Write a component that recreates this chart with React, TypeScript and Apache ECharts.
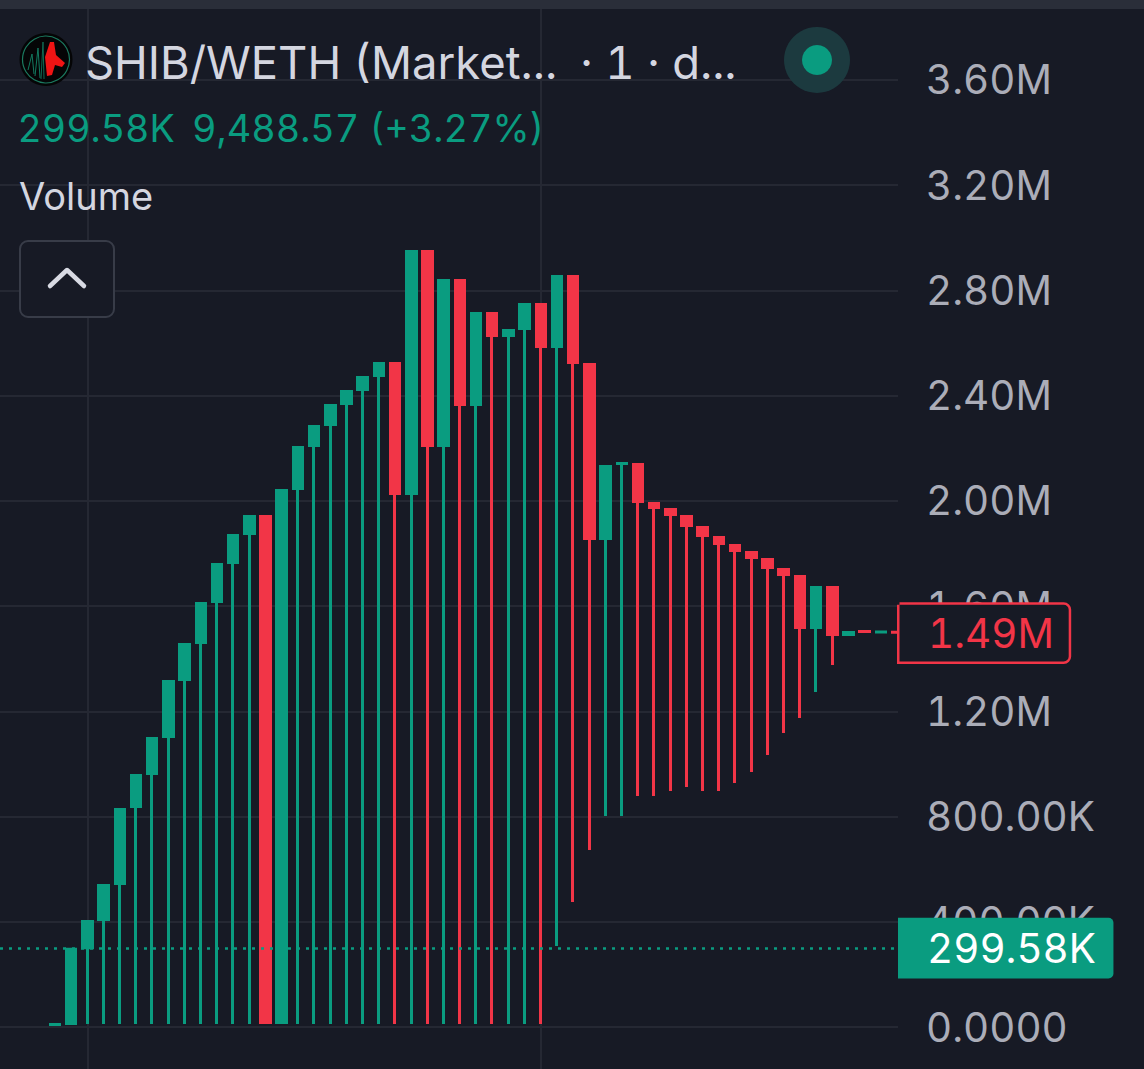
import React, { useEffect, useRef } from "react";
import * as echarts from "echarts";

const opens = [3800, 7600, 295300, 402900, 539700, 832300, 957700, 1098300, 1315000, 1455600, 1611400, 1759600, 1869800, 1945900, 11400, 2040900, 2204300, 2284100, 2363900, 2417100, 2470300, 2527300, 2021900, 2953000, 2204300, 2842800, 2360000, 2717400, 2622300, 2648900, 2751600, 2580500, 2857900, 2523500, 1850800, 2135900, 2143500, 1995300, 1972500, 1945900, 1904100, 1866000, 1835600, 1809000, 1782400, 1744400, 1717800, 1512600, 1676000, 1486000, 1508800, 1497400, 1505000];
const closes = [15200, 301400, 406700, 543500, 832300, 961500, 1102000, 1318800, 1459400, 1615200, 1763400, 1873600, 1945900, 11400, 2044700, 2208100, 2287900, 2367700, 2420900, 2474100, 2527300, 2021900, 2953000, 2204300, 2842800, 2360000, 2717400, 2622300, 2652700, 2751600, 2580500, 2857900, 2519700, 1850800, 2135900, 2147300, 1991500, 1968700, 1942100, 1900300, 1862200, 1831800, 1805200, 1778600, 1740600, 1714000, 1512600, 1676000, 1486000, 1505000, 1497400, 1505000, 1495500];
const lows = [3800, 7600, 11400, 11400, 11400, 11400, 11400, 11400, 11400, 11400, 11400, 11400, 11400, 11400, 11400, 11400, 11400, 11400, 11400, 11400, 11400, 11400, 11400, 11400, 11400, 11400, 11400, 11400, 11400, 11400, 11400, 307800, 475100, 672700, 801900, 801900, 877900, 877900, 896900, 912100, 896900, 896900, 927300, 969100, 1033700, 1117300, 1174300, 1273200, 1375800, 1486000, 1497400, 1497400, 1495500];
const yTickLabels = ["0.0000", "400.00K", "800.00K", "1.20M", "1.60M", "2.00M", "2.40M", "2.80M", "3.20M", "3.60M"];
const crosshairCandles = [2, 30];
const lastVolume = 299580;
const lastVolumeLabel = "299.58K";
const lastPrice = 1497000;
const lastPriceLabel = "1.49M";
const titleText = "SHIB/WETH (Market...";
const titleSuffix = "· 1 · d...";
const statusValue = "299.58K";
const statusChange = "9,488.57 (+3.27%)";
const indicatorText = "Volume";

const BG = "#171a25";
const GRID = "#252833";
const GREEN = "#0a9c80";
const RED = "#f23547";
const FONT = "Inter, 'Noto Sans', sans-serif";
const AXIS_FONT = 40.4;
const BODY_INSET = 5700;
const SHIFT = 26;

export default function App() {
  const ref = useRef<HTMLDivElement>(null);
  useEffect(() => {
    document.body.style.margin = "0";
    document.body.style.background = BG;
    const chart = echarts.init(ref.current!, null, { renderer: "svg" });
    const candles = opens.map((o, i) => {
      const c = closes[i];
      const inset = Math.min(BODY_INSET, Math.abs(o - c) / 2 - 1);
      const up = c > o;
      return [i, up ? o + inset : o - inset, up ? c - inset : c + inset, lows[i], Math.max(o, c)];
    });
    const txt = (x: number, y: number, text: string, size: number, fill: string) => ({
      type: "text", x, y, z: 100,
      style: { text, fontSize: size, fill, fontFamily: FONT, verticalAlign: "middle", align: "left" },
    });
    chart.setOption({
      animation: false,
      backgroundColor: BG,
      grid: { left: 0, right: 246, top: 0.5, height: 1157.75, containLabel: false },
      xAxis: {
        type: "value", min: -3.40, max: 52.06,
        axisLine: { show: false }, axisTick: { show: false }, axisLabel: { show: false }, splitLine: { show: false },
      },
      yAxis: {
        type: "value", position: "right", min: -400000, max: 4000000, interval: 400000,
        axisLine: { show: false }, axisTick: { show: false },
        axisLabel: {
          margin: 28, align: "left", fontSize: AXIS_FONT, color: "#abadb8", fontFamily: FONT,
          formatter: (v: number) => yTickLabels[Math.round(v / 400000)] ?? "",
        },
        splitLine: { lineStyle: { color: GRID, width: 2 } },
      },
      series: [
        {
          type: "line", data: [], z: 0, silent: true,
          markLine: {
            z: 1, silent: true, symbol: "none", label: { show: false },
            lineStyle: { color: GRID, width: 2, type: "solid" },
            data: crosshairCandles.map((c) => ({ xAxis: c })),
          },
        },
        {
          type: "candlestick", z: 2, barWidth: 10,
          encode: { x: 0, y: [1, 2, 3, 4] },
          data: candles,
          itemStyle: { color: GREEN, color0: RED, borderColor: GREEN, borderColor0: RED, borderWidth: 3 },
          markLine: {
            z: 5, silent: true, symbol: "none",
            data: [
              {
                yAxis: lastVolume, name: lastVolumeLabel,
                lineStyle: { color: GREEN, width: 2.5, type: [3, 6] },
                label: {
                  show: true, position: "end", distance: 0, formatter: "{b}",
                  color: "#ffffff", fontSize: AXIS_FONT, fontFamily: FONT, backgroundColor: GREEN,
                  padding: [10.3, 25, 10.3, 29], borderRadius: [0, 5, 5, 0],
                },
              },
              {
                yAxis: lastPrice, name: lastPriceLabel,
                lineStyle: { color: "transparent", width: 0 },
                label: {
                  show: true, position: "end", distance: 1.5, formatter: "{b}",
                  color: RED, fontSize: AXIS_FONT, fontFamily: FONT, backgroundColor: BG,
                  borderColor: RED, borderWidth: 2.5,
                  padding: [8.3, 25, 8.3, 28.5], borderRadius: [0, 5, 5, 0],
                },
              },
            ],
          },
        },
      ],
      graphic: [
        {
          type: "group", x: 0, y: SHIFT, z: 100,
          children: [
            { type: "rect", z: 90, shape: { x: 0, y: 0, width: 1144, height: 9 }, style: { fill: "#2a2e39" } },
            // logo
            { type: "circle", z: 100, shape: { cx: 46, cy: 59.5, r: 26.5 }, style: { fill: "#050506" } },
            { type: "circle", z: 101, shape: { cx: 46, cy: 59.5, r: 23.5 }, style: { fill: "transparent", stroke: "#1b7a60", lineWidth: 1.2 } },
            { type: "polyline", z: 101, shape: { points: [[28, 70], [32, 54], [34, 74]] }, style: { fill: "none", stroke: "#12795f", lineWidth: 1 } },
            { type: "polyline", z: 101, shape: { points: [[35, 76], [38, 48], [40, 78]] }, style: { fill: "none", stroke: "#12795f", lineWidth: 1 } },
            { type: "polyline", z: 101, shape: { points: [[41, 79], [43, 42], [44, 79]] }, style: { fill: "none", stroke: "#0f6a53", lineWidth: 1 } },
            { type: "polygon", z: 102, shape: { points: [[50, 42], [54, 42], [56, 55], [65, 63], [62, 67], [55, 65], [52, 75], [47, 76], [45, 57]] }, style: { fill: "#f01414" } },
            // header
            txt(85, 62, titleText, 45.4, "#d4d6e0"),
            txt(580, 62, titleSuffix, 45.4, "#d4d6e0"),
            { type: "circle", z: 100, shape: { cx: 817, cy: 60, r: 33 }, style: { fill: "#1c3a3f" } },
            { type: "circle", z: 101, shape: { cx: 817, cy: 60, r: 15 }, style: { fill: GREEN } },
            txt(17.5, 128, statusValue, 37.6, GREEN),
            txt(192, 128, statusChange, 37.8, GREEN),
            txt(19, 196, indicatorText, 38, "#d4d6e0"),
            // collapse button
            { type: "rect", z: 100, shape: { x: 20, y: 241, width: 94, height: 76, r: 8 }, style: { fill: BG, stroke: "#383c48", lineWidth: 2 } },
            { type: "polyline", z: 101, shape: { points: [[50, 286], [67, 270], [84, 286]] }, style: { fill: "none", stroke: "#d8dae3", lineWidth: 4.5, lineCap: "round", lineJoin: "round" } },
          ],
        },
      ],
    });
    return () => chart.dispose();
  }, []);
  return (
    <div style={{ position: "absolute", left: 0, top: 0, width: 1144, height: 1069, overflow: "hidden", fontFeatureSettings: '"tnum"' }}>
      <div ref={ref} style={{ position: "absolute", left: 0, top: -SHIFT, width: 1144, height: 1160 }} />
    </div>
  );
}
